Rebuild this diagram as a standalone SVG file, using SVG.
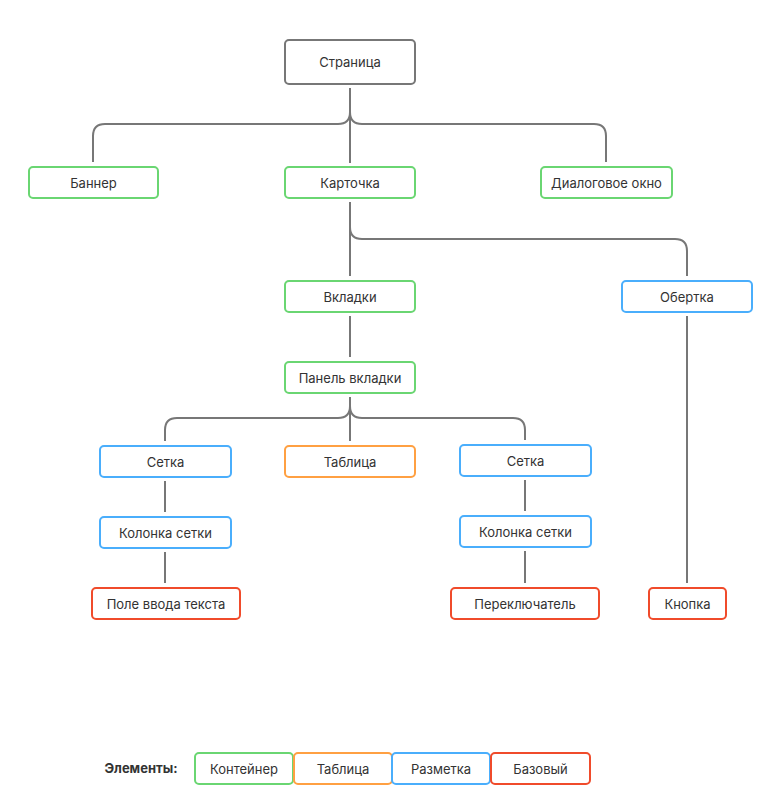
<svg xmlns="http://www.w3.org/2000/svg" width="775" height="802" viewBox="0 0 775 802">
<style>
.n rect{fill:#fff;stroke-width:2}
.root rect{stroke:#777}
.c rect{stroke:#6ad672}
.t rect{stroke:#ffa042}
.l rect{stroke:#4aaefc}
.b rect{stroke:#f04b2b}
text{font-family:Inter,"Noto Sans",sans-serif;font-size:13px;fill:#333;text-anchor:middle;dominant-baseline:central}
#edges path{fill:none;stroke:#777;stroke-width:2}
</style>
<rect width="775" height="802" fill="#fff"/>
<g id="edges">
<path d="M350,88 V163"/>
<path d="M350,112 Q350,124 338,124 H105 Q93,124 93,136 V162"/>
<path d="M350,112 Q350,124 362,124 H594 Q606,124 606,136 V162"/>
<path d="M350,202 V276"/>
<path d="M350,227 Q350,239 362,239 H675 Q687,239 687,251 V276"/>
<path d="M350,316 V357"/>
<path d="M350,397 V441"/>
<path d="M350,406 Q350,418 338,418 H177 Q165,418 165,430 V441"/>
<path d="M350,406 Q350,418 362,418 H513 Q525,418 525,430 V440"/>
<path d="M165,481 V512"/>
<path d="M165,552 V583"/>
<path d="M525,480 V511"/>
<path d="M525,551 V583"/>
<path d="M687,316 V583"/>
</g>
<g id="n-page" class="n root"><rect x="285" y="40" width="130" height="44" rx="4"/><text x="350" y="62">Страница</text></g>
<g id="n-banner" class="n c"><rect x="29" y="167" width="129" height="31" rx="4"/><text x="93.5" y="182.5">Баннер</text></g>
<g id="n-card" class="n c"><rect x="285" y="167" width="130" height="31" rx="4"/><text x="350" y="182.5">Карточка</text></g>
<g id="n-dialog" class="n c"><rect x="541" y="167" width="131" height="31" rx="4"/><text x="606.5" y="182.5">Диалоговое окно</text></g>
<g id="n-tabs" class="n c"><rect x="285" y="281" width="130" height="31" rx="4"/><text x="350" y="296.5">Вкладки</text></g>
<g id="n-wrap" class="n l"><rect x="622" y="281" width="130" height="31" rx="4"/><text x="687" y="296.5">Обертка</text></g>
<g id="n-tabpanel" class="n c"><rect x="285" y="362" width="130" height="31" rx="4"/><text x="350" y="377.5">Панель вкладки</text></g>
<g id="n-grid1" class="n l"><rect x="100" y="446" width="131" height="31" rx="4"/><text x="165.5" y="461.5">Сетка</text></g>
<g id="n-table" class="n t"><rect x="285" y="446" width="130" height="31" rx="4"/><text x="350" y="461.5">Таблица</text></g>
<g id="n-grid2" class="n l"><rect x="460" y="445" width="131" height="31" rx="4"/><text x="525.5" y="460.5">Сетка</text></g>
<g id="n-col1" class="n l"><rect x="100" y="517" width="131" height="31" rx="4"/><text x="165.5" y="532.5">Колонка сетки</text></g>
<g id="n-col2" class="n l"><rect x="460" y="516" width="131" height="31" rx="4"/><text x="525.5" y="531.5">Колонка сетки</text></g>
<g id="n-input" class="n b"><rect x="92" y="588" width="148" height="31" rx="4"/><text x="166" y="603.5">Поле ввода текста</text></g>
<g id="n-switch" class="n b"><rect x="451" y="588" width="148" height="31" rx="4"/><text x="525" y="603.5">Переключатель</text></g>
<g id="n-button" class="n b"><rect x="649" y="588" width="77" height="31" rx="4"/><text x="687.5" y="603.5">Кнопка</text></g>
<g id="legend">
<text x="141" y="768" style="font-weight:bold">Элементы:</text>
<g class="n c"><rect x="195" y="753" width="98" height="31" rx="4"/><text x="244" y="768.5">Контейнер</text></g>
<g class="n t"><rect x="294" y="753" width="98" height="31" rx="4"/><text x="343" y="768.5">Таблица</text></g>
<g class="n l"><rect x="392" y="753" width="98" height="31" rx="4"/><text x="441" y="768.5">Разметка</text></g>
<g class="n b"><rect x="491" y="753" width="99" height="31" rx="4"/><text x="540.5" y="768.5">Базовый</text></g>
</g>
</svg>
